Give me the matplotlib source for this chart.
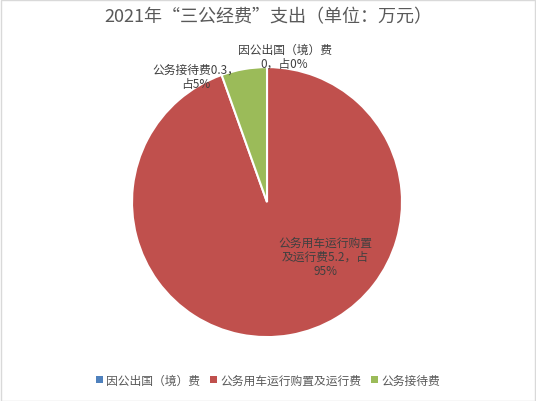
import matplotlib.pyplot as plt
from matplotlib.patches import Patch, Rectangle

plt.rcParams['font.family'] = ['Noto Sans CJK SC', 'DejaVu Sans']

categories = ['因公出国（境）费', '公务用车运行购置及运行费', '公务接待费']
values = [0, 5.2, 0.3]
colors = ['#4F81BD', '#C0504D', '#9BBB59']
label_names = ['因公出国（境）费\n', '公务用车运行购置\n及运行费', '公务接待费']
label_pos = [(0.13, 1.08), (0.43, -0.40), (-0.53, 0.93)]

fig = plt.figure(figsize=(5.36, 4.02), dpi=100)
fig.patches.append(Rectangle((0.001, 0.001), 0.997, 0.997, transform=fig.transFigure,
                             fill=False, edgecolor='#D9D9D9', linewidth=1))
ax = fig.add_axes([0.2463, 0.159, 0.5037, 0.6716])

wedges, _ = ax.pie(values, colors=colors, startangle=90, counterclock=False,
                   wedgeprops=dict(edgecolor='white', linewidth=1.5))
ax.set_xlim(-1, 1)
ax.set_ylim(-1, 1)

total = sum(values)
for name, v, (x, y) in zip(label_names, values, label_pos):
    pct = v / total * 100
    if name.endswith('\n'):
        txt = f'{name}{v:g}，占{pct:.0f}%'
    elif '及' in name:
        txt = f'{name}{v:g}，占\n{pct:.0f}%'
    else:
        txt = f'{name}{v:g}，\n占{pct:.0f}%'
    ax.text(x, y, txt, ha='center', va='center', fontsize=8.5, color='#404040',
            linespacing=1.1)

fig.text(0.5, 0.957, '2021年“三公经费”支出（单位：万元）', ha='center', va='center',
         fontsize=13, color='#595959')

handles = [Patch(facecolor=c, edgecolor='none') for c in colors]
fig.legend(handles, categories, loc='center', bbox_to_anchor=(0.5, 0.052), ncol=3,
           frameon=False, fontsize=8.5, handlelength=0.6, handleheight=0.6,
           handletextpad=0.3, columnspacing=0.8, labelcolor='#595959')

fig.savefig('out.png', dpi=100)
